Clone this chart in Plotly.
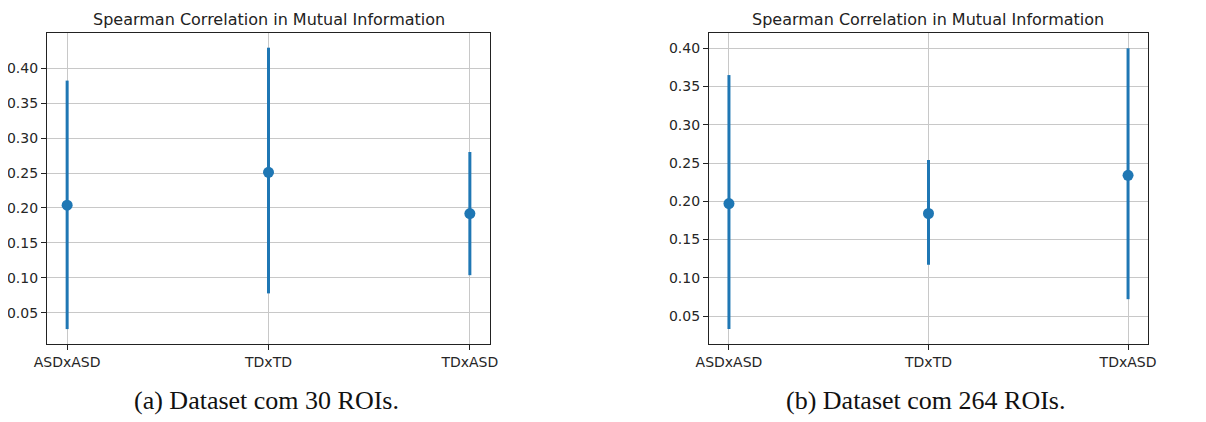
import plotly.graph_objects as go

categories = ["ASDxASD", "TDxTD", "TDxASD"]

# (a) Dataset com 30 ROIs
means_a = [0.204, 0.251, 0.192]
err_up_a = [0.178, 0.178, 0.088]
err_down_a = [0.177, 0.173, 0.088]

# (b) Dataset com 264 ROIs
means_b = [0.197, 0.184, 0.234]
err_up_b = [0.168, 0.070, 0.166]
err_down_b = [0.164, 0.067, 0.162]

yticks_a = [0.05, 0.10, 0.15, 0.20, 0.25, 0.30, 0.35, 0.40]
yticks_b = [0.05, 0.10, 0.15, 0.20, 0.25, 0.30, 0.35, 0.40]

title_text = "Spearman Correlation in Mutual Information"
captions = ["(a) Dataset com 30 ROIs.", "(b) Dataset com 264 ROIs."]

W, H = 1206, 422
OFF = 8  # page body margin
blue = "#1f77b4"

def px_x(p):
    return (p - OFF) / W

def px_y(p):
    return 1 - (p - OFF) / H

fig = go.Figure()

xpos = list(range(len(categories)))

fig.add_trace(go.Scatter(
    x=xpos, y=means_a, mode="markers",
    marker=dict(color=blue, size=11),
    error_y=dict(type="data", symmetric=False, array=err_up_a, arrayminus=err_down_a,
                 color=blue, thickness=3, width=0),
    xaxis="x", yaxis="y", showlegend=False))

fig.add_trace(go.Scatter(
    x=xpos, y=means_b, mode="markers",
    marker=dict(color=blue, size=11),
    error_y=dict(type="data", symmetric=False, array=err_up_b, arrayminus=err_down_b,
                 color=blue, thickness=3, width=0),
    xaxis="x2", yaxis="y2", showlegend=False))

dom_a = [px_x(47), px_x(490)]
dom_b = [px_x(709), px_x(1148)]
dom_y = [px_y(344), px_y(33)]

font_tick = dict(family="DejaVu Sans", size=14, color="#262626")

def xaxis(domain, anchor):
    return dict(domain=domain, anchor=anchor, range=[-0.1, 2.1], automargin=False,
                tickvals=xpos, ticktext=categories, tickfont=font_tick,
                showgrid=True, gridcolor="#c8c8c8", gridwidth=1,
                showline=True, linecolor="#222", linewidth=1.3, mirror=True,
                ticks="outside", ticklen=5, tickcolor="#222", zeroline=False)

def yaxis(anchor, rng, ticks):
    return dict(domain=dom_y, anchor=anchor, range=rng, automargin=False,
                tickvals=ticks, ticktext=[f"{t:.2f}" for t in ticks], tickfont=font_tick,
                showgrid=True, gridcolor="#c8c8c8", gridwidth=1,
                showline=True, linecolor="#222", linewidth=1.3, mirror=True,
                ticks="outside", ticklen=5, tickcolor="#222", zeroline=False)

fig.update_layout(
    width=W, height=H,
    margin=dict(l=0, r=0, t=0, b=0, autoexpand=False),
    paper_bgcolor="white", plot_bgcolor="white",
    xaxis=xaxis(dom_a, "y"),
    yaxis=yaxis("x", [0.0057, 0.45], yticks_a),
    xaxis2=xaxis(dom_b, "y2"),
    yaxis2=yaxis("x2", [0.0134, 0.42], yticks_b),
)

for dom in (dom_a, dom_b):
    cx = (dom[0] + dom[1]) / 2
    fig.add_annotation(text=title_text, x=cx, y=px_y(20), xref="paper", yref="paper",
                       showarrow=False, xanchor="center", yanchor="middle",
                       font=dict(family="DejaVu Sans", size=16, color="#222"))
fig.add_annotation(text=captions[0], x=px_x(266), y=px_y(400), xref="paper", yref="paper",
                   showarrow=False, xanchor="center", yanchor="middle",
                   font=dict(family="Liberation Serif", size=26, color="#111"))
fig.add_annotation(text=captions[1], x=px_x(925), y=px_y(400), xref="paper", yref="paper",
                   showarrow=False, xanchor="center", yanchor="middle",
                   font=dict(family="Liberation Serif", size=26, color="#111"))

fig.write_html("out.html")
